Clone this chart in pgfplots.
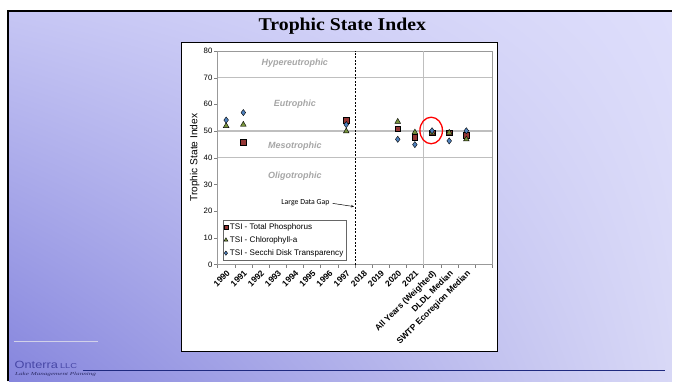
\documentclass[border=0pt]{standalone}
\usepackage{fontspec}
\setmainfont{Liberation Sans}
\newfontfamily\titlefont{Liberation Serif}
\newfontfamily\calibri{Carlito}
\usepackage{graphicx}
\usepackage{pgfplots}
\usepackage{pgfplotstable}
\pgfplotsset{compat=1.18}
\usetikzlibrary{arrows.meta,shadings}

\definecolor{tpred}{HTML}{953735}
\definecolor{chlgreen}{HTML}{77933C}
\definecolor{secblue}{HTML}{4F81BD}
\definecolor{zonegray}{HTML}{A6A6A6}
\definecolor{gridgray}{HTML}{BFBFBF}
\definecolor{logoblue}{HTML}{4747A6}
\definecolor{ruleblue}{HTML}{1F2A80}
\definecolor{bgll}{HTML}{8585DD}
\definecolor{bgul}{HTML}{C6C6F4}
\definecolor{bgur}{HTML}{DEDEFB}
\definecolor{bglr}{HTML}{D8D8F6}

% category index: 0-7 = 1990-1997, 8-11 = 2018-2021, 12 = all years, 13 = DLDL, 14 = SWTP
\pgfplotstableread{
x y
1 45.9
7 54.1
10 50.9
11 47.7
12 49.4
13 49.4
14 48.5
}\tptable

\pgfplotstableread{
x y
0 51.9
1 52.4
7 49.9
10 53.5
11 49.5
12 49.4
13 49.4
14 46.9
}\chltable

\pgfplotstableread{
x y
0 54.1
1 56.9
7 52.4
10 46.9
11 44.9
12 50.1
13 46.3
14 50.1
}\secchitable

\begin{document}
\begin{tikzpicture}
% slide background
\fill[white] (0pt,0pt) rectangle (673pt,382pt);
\shade[lower left=bgll, upper left=bgul, upper right=bgur, lower right=bglr]
  (9pt,0pt) rectangle (673pt,370.5pt);
\draw[black, line width=2.5pt] (8.2pt,0pt) -- (8.2pt,371pt) -- (673pt,371pt);

% title
\node[anchor=base, inner sep=0pt, font=\titlefont\bfseries\fontsize{18}{20}\selectfont] at (343pt,351.7pt) {\scalebox{1.1}[1]{Trophic State Index}};

% logo and rule
\draw[white!75!logoblue, line width=0.4pt] (14pt,40pt) -- (98pt,40pt);
\node[anchor=base west, inner sep=0pt, text=logoblue, font=\fontsize{10.5}{12}\selectfont] at (14.5pt,12.7pt)
  {\scalebox{1.22}[1]{Onterra}\hspace{2pt}\fontsize{7.2}{8}\selectfont\scalebox{1.3}[1]{LLC}};
\node[anchor=base west, inner sep=0pt, text=logoblue!60!black, font=\titlefont\itshape\fontsize{5}{6}\selectfont] at (15pt,6pt) {\resizebox{81pt}{3.2pt}{Lake Management Planning}};
\draw[ruleblue, line width=0.8pt] (83pt,11pt) -- (666pt,11pt);

% chart box
\draw[black, line width=0.8pt, fill=white] (182pt,30pt) rectangle (498pt,340pt);

\begin{axis}[
  at={(218pt,117pt)}, anchor=south west,
  width=275pt, height=214pt, scale only axis,
  xmin=-0.5, xmax=15.5, ymin=0, ymax=80,
  /pgf/number format/assume math mode=true,
  ytick={0,10,...,80},
  xtick={0,...,14},
  xticklabels={1990,1991,1992,1993,1994,1995,1996,1997,2018,2019,2020,2021,All Years (Weighted),DLDL Median,SWTP Ecoregion Median},
  minor xtick={-0.5,0.5,...,15.5},
  major x tick style={draw=none},
  minor x tick style={gray},
  minor tick length=3pt,
  major tick length=3.5pt,
  y tick style={gray},
  tick align=outside,
  xtick pos=bottom, ytick pos=left,
  axis line style={draw=gray!80, line width=0.8pt},
  tick label style={font=\fontsize{7.8}{9}\selectfont},
  yticklabel style={inner sep=1.5pt},
  xticklabel style={rotate=45, anchor=north east, inner sep=1pt, font=\bfseries\fontsize{8.5}{9}\selectfont},
  extra y ticks={40,50,70},
  extra y tick labels={},
  extra y tick style={grid=major, major tick length=0pt, major grid style={gridgray, line width=1.2pt}},
  ylabel={Trophic State Index},
  ylabel style={at={(axis description cs:-0.083,0.5)}, anchor=center, font=\fontsize{10.2}{12}\selectfont},
  legend style={at={(rel axis cs:0.018,0.02)}, anchor=south west, draw=black!60,
    font=\fontsize{8.1}{9}\selectfont, inner sep=1.2pt, row sep=1.8pt, cells={anchor=west}},
  legend image code/.code={\draw[mark repeat=2,mark phase=2,#1] plot coordinates {(0pt,0pt) (2pt,0pt) (4pt,0pt)};},
  legend image post style={every mark/.append style={scale=0.7}},
]
% trophic zone lines and labels
\draw[gridgray, line width=1.2pt] (axis cs:11.5,0) -- (axis cs:11.5,80);
\draw[black, line width=0.5pt, dash pattern=on 2pt off 1.5pt] (axis cs:7.5,0) -- (axis cs:7.5,80);
\begin{scope}[every node/.style={text=zonegray, font=\bfseries\itshape\fontsize{9}{10}\selectfont}]
\node at (axis cs:4,75.3) {Hypereutrophic};
\node at (axis cs:4,60.1) {Eutrophic};
\node at (axis cs:4,44.4) {Mesotrophic};
\node at (axis cs:4,33.0) {Oligotrophic};
\end{scope}
\node[font=\calibri\fontsize{7.8}{9}\selectfont] at (axis cs:4.62,23.2) {Large Data Gap};
\draw[-{Stealth[length=3pt,width=2.5pt]}, line width=0.5pt] (axis cs:6.2,22.9) -- (axis cs:7.45,21.7);

\addplot[only marks, mark=square*, mark size=2.8pt, mark options={fill=tpred, draw=black, line width=0.4pt}]
  table[x=x, y=y] {\tptable};
\addlegendentry{TSI - Total Phosphorus}
\addplot[only marks, mark=triangle*, mark size=3.3pt, mark options={fill=chlgreen, draw=black, line width=0.4pt}]
  table[x=x, y=y] {\chltable};
\addlegendentry{TSI - Chlorophyll-a}
\addplot[only marks, mark=diamond*, mark size=3.1pt, mark options={fill=secblue, draw=black, line width=0.4pt}]
  table[x=x, y=y] {\secchitable};
\addlegendentry{TSI - Secchi Disk Transparency}

% highlight of the weighted all-years value
\draw[red, line width=1.3pt] (axis cs:11.95,50.2) ellipse [x radius=11.3pt, y radius=13.3pt];
\end{axis}
\end{tikzpicture}
\end{document}
